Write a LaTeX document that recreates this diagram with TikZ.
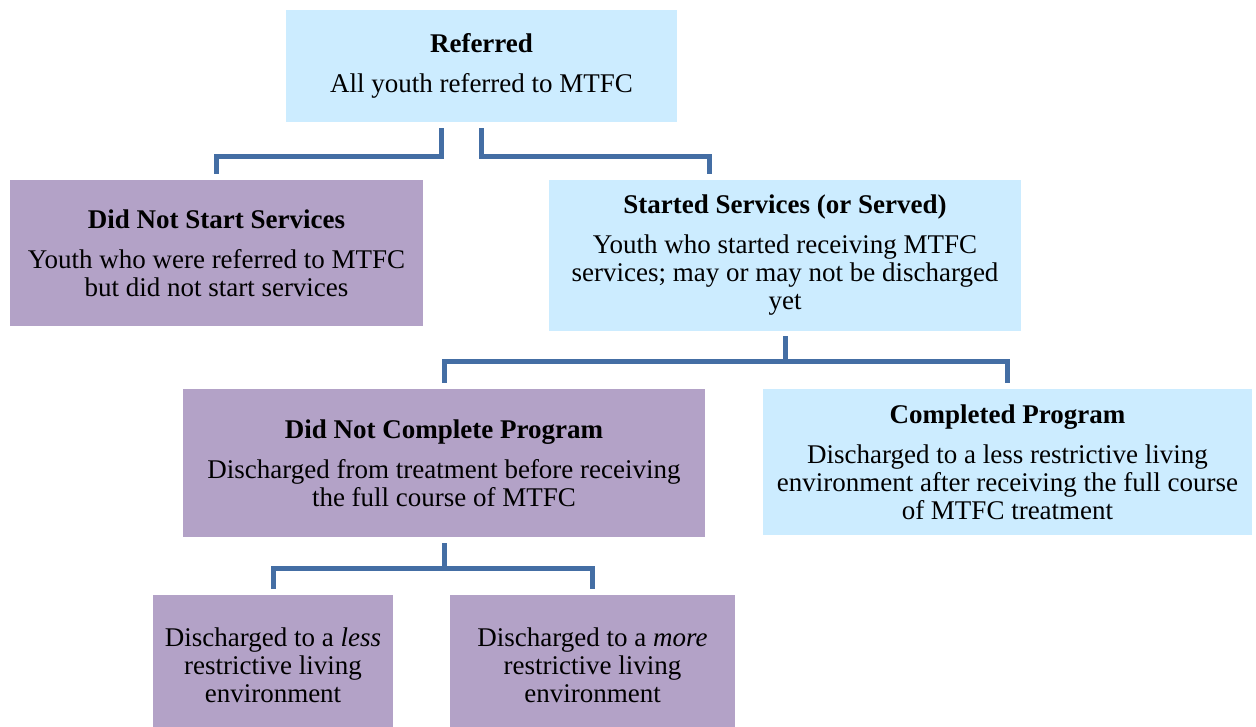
\documentclass[tikz,border=0pt]{standalone}
\usepackage{fontspec}
\setmainfont{Liberation Serif}
\definecolor{lblue}{RGB}{204,236,255}
\definecolor{lpurple}{RGB}{179,162,199}
\definecolor{cblue}{RGB}{68,110,164}
\begin{document}
\begin{tikzpicture}[x=1pt,y=1pt,
  box/.style={rectangle, inner sep=0pt, align=center, font=\fontsize{27}{28}\selectfont},
  bluebox/.style={box, fill=lblue},
  purplebox/.style={box, fill=lpurple},
  conn/.style={draw=cblue, line width=5pt, line join=miter}]
\useasboundingbox (0,0) rectangle (1256,727);
% y = 727 - ypx
\node[bluebox, minimum width=391, minimum height=112] (ref) at (481.5,661)
  {\textbf{Referred}\\[12pt]All youth referred to MTFC};
\node[purplebox, minimum width=413, minimum height=146] (dns) at (216.5,474)
  {\textbf{Did Not Start Services}\\[12pt]Youth who were referred to MTFC\\but did not start services};
\node[bluebox, minimum width=472, minimum height=151] (ss) at (785,471.5)
  {\textbf{Started Services (or Served)}\\[12pt]Youth who started receiving MTFC\\services; may or may not be discharged\\yet};
\node[purplebox, minimum width=522, minimum height=148] (dnc) at (444,264)
  {\textbf{Did Not Complete Program}\\[12pt]Discharged from treatment before receiving\\the full course of MTFC};
\node[bluebox, minimum width=489, minimum height=146] (cp) at (1007.5,265)
  {\textbf{Completed Program}\\[12pt]Discharged to a less restrictive living\\environment after receiving the full course\\of MTFC treatment};
\node[purplebox, minimum width=240, minimum height=140] (less) at (273,62)
  {Discharged to a \textit{less}\\restrictive living\\environment};
\node[purplebox, minimum width=285, minimum height=140] (more) at (592.5,62)
  {Discharged to a \textit{more}\\restrictive living\\environment};
% connectors
\draw[conn] ([xshift=-40pt,yshift=-6pt]ref.south) -- ++(0,-28) -| ([yshift=6pt]dns.north);
\draw[conn] ([yshift=-6pt]ref.south) -- ++(0,-28) -| ([xshift=-76pt,yshift=6pt]ss.north);
\coordinate (sj) at ([yshift=-30pt]ss.south);
\draw[conn] ([yshift=-5pt]ss.south) -- (sj);
\draw[conn] (sj) -| ([yshift=6pt]dnc.north);
\draw[conn] (sj) -| ([yshift=6pt]cp.north);
\coordinate (dj) at ([yshift=-31pt]dnc.south);
\draw[conn] ([yshift=-6pt]dnc.south) -- (dj);
\draw[conn] (dj) -| ([yshift=6pt]less.north);
\draw[conn] (dj) -| ([yshift=6pt]more.north);
\end{tikzpicture}
\end{document}
